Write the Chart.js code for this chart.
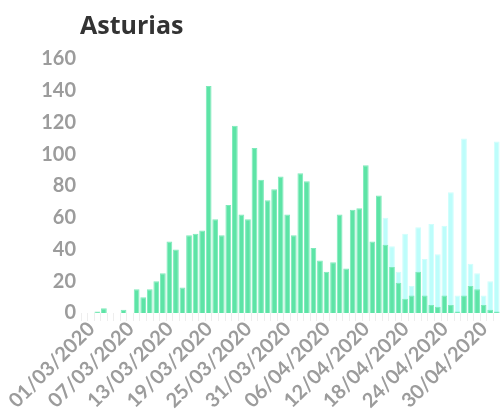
<!DOCTYPE html>
<html>
<head>
<meta charset="utf-8">
<script src="https://cdn.jsdelivr.net/npm/chart.js@4/dist/chart.umd.min.js"></script>
<style>
  html, body { margin: 0; padding: 0; background: #fff; }
  #wrap { position: relative; width: 500px; height: 410px; }
  #titre { position: absolute; left: 80px; top: 12px; font: bold 25px 'Open Sans', sans-serif; line-height: 1; color: #333; }
</style>
</head>
<body>
<div id="wrap">
  <canvas id="graph" width="500" height="410"></canvas>
  <div id="titre">Asturias</div>
</div>
<script>
// jours du 01/03/2020 au 03/05/2020
const jours = []
for (let i = 0; i < 64; i++) {
  const d = new Date(2020, 2, 1 + i)
  jours.push(String(d.getDate()).padStart(2, '0') + '/' + String(d.getMonth() + 1).padStart(2, '0') + '/2020')
}

// cas par jour (barres vertes)
const cas = [0, 0, 1, 3, 0, 0, 2, 0, 15, 10, 15, 20, 25, 45, 40, 16,
  49, 50, 52, 143, 59, 49, 68, 118, 62, 59, 104, 84, 71, 78, 86, 62,
  49, 88, 83, 41, 33, 26, 32, 62, 28, 65, 66, 93, 45, 74, 43, 29,
  19, 9, 11, 26, 11, 5, 4, 11, 5, 1, 11, 17, 15, 5, 2, 1]

// deuxième série (barres cyan, derrière)
const autres = [null, null, null, null, null, null, null, null, null, null, null, null, null, null, null, null,
  null, null, null, null, null, null, null, null, null, null, null, null, null, null, null, null,
  null, null, null, null, null, null, null, null, null, null, null, null, null, null, 60, 42,
  26, 50, 17, 54, 34, 56, 37, 55, 76, 11, 110, 31, 25, 11, 20, 108]

const yTicks = [0, 20, 40, 60, 80, 100, 120, 140, 160]

const police = { family: 'Lato', size: 20, weight: 'bold' }

new Chart(document.getElementById('graph'), {
  type: 'bar',
  data: {
    labels: jours,
    datasets: [{
      data: cas,
      backgroundColor: '#5de4a6',
      borderColor: '#7eeabb',
      borderWidth: 1,
      order: 0
    }, {
      data: autres,
      backgroundColor: '#bdfdfb',
      borderColor: '#d0fefc',
      borderWidth: 1,
      order: 1
    }]
  },
  options: {
    responsive: false,
    animation: false,
    devicePixelRatio: 1,
    layout: { padding: { top: 59, left: 0, right: 0, bottom: 0 } },
    datasets: { bar: { grouped: false, barPercentage: 0.88, categoryPercentage: 1 } },
    plugins: { legend: { display: false }, tooltip: { enabled: false }, title: { display: false } },
    scales: {
      x: {
        border: { display: false },
        grid: { drawOnChartArea: false, color: '#eeeeee', tickLength: 8 },
        afterFit: s => { s.paddingLeft = 0; s.paddingRight = 0; s.height = 97 },
        ticks: {
          autoSkip: false,
          minRotation: 45,
          maxRotation: 45,
          color: '#9c9c9c',
          font: police,
          padding: -4,
          labelOffset: 7,
          callback: (v, i) => i % 6 === 0 ? jours[i] : ''
        }
      },
      y: {
        min: 0,
        max: 160,
        border: { display: false },
        grid: { display: false, drawTicks: false, tickLength: 0 },
        afterFit: s => { s.width = 81 },
        afterBuildTicks: axis => { axis.ticks = yTicks.map(v => ({ value: v })) },
        ticks: { autoSkip: false, color: '#9c9c9c', font: police, padding: 5 }
      }
    }
  }
})
</script>
</body>
</html>
